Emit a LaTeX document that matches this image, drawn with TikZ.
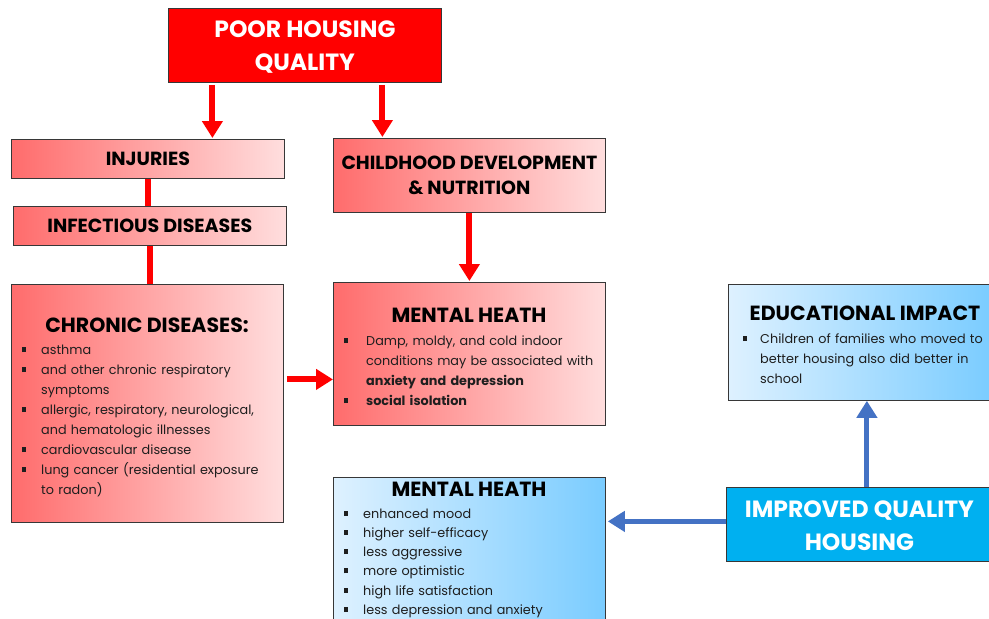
\documentclass[tikz,border=0pt]{standalone}
\usepackage{fontspec}
\setmainfont{Poppins}
\usetikzlibrary{arrows.meta}
\definecolor{redA}{RGB}{255,108,108}
\definecolor{redB}{RGB}{255,222,222}
\definecolor{blueA}{RGB}{222,241,255}
\definecolor{blueB}{RGB}{122,204,255}
\definecolor{cyanbox}{RGB}{0,176,240}
\definecolor{arrowblue}{RGB}{68,114,196}
\definecolor{edge}{RGB}{55,55,55}
\definecolor{bodytext}{RGB}{30,30,30}
\newlength\bind
\newcommand{\bitem}{\par\hangindent=\bind\hangafter=1\noindent\makebox[\bind][l]{\rule[2.5pt]{3.5pt}{5pt}}}
\begin{document}
\begin{tikzpicture}[x=1pt,y=-1pt,
  boxbase/.style={draw=edge,line width=0.8pt,anchor=north west,inner sep=0pt},
  redbox/.style={boxbase,left color=redA,right color=redB},
  bluebox/.style={boxbase,left color=blueA,right color=blueB},
  solidred/.style={boxbase,fill=red},
  solidcyan/.style={boxbase,fill=cyanbox},
  whitehead/.style={font=\bfseries\fontsize{23.5}{33}\selectfont,text=white,align=center},
  head/.style={font=\bfseries\fontsize{19}{25}\selectfont,text=black,align=center},
  bighead/.style={font=\bfseries\fontsize{20.5}{24}\selectfont,text=black,inner sep=0pt},
  body/.style={font=\fontsize{12.8}{20}\selectfont,text=bodytext,align=left,anchor=north west,inner sep=0pt,text width=300pt},
  tightbody/.style={body,font=\fontsize{12.8}{19.3}\selectfont},
  redarrow/.style={draw=red,line width=6pt,-{Triangle[width=20pt,length=17pt]}},
  redline/.style={draw=red,line width=6pt},
  bluearrow/.style={draw=arrowblue,line width=5pt,-{Triangle[width=20pt,length=17pt]}}
]
\useasboundingbox (0,0) rectangle (989,619);
% boxes
\node[solidred,minimum width=273pt,minimum height=74pt] (poor) at (168,8) {};
\node[whitehead] (poort) at ([yshift=-2pt]poor.center) {POOR HOUSING\\QUALITY};
\node[redbox,minimum width=273pt,minimum height=39pt] (inj) at (11,139) {};
\node[head] (injt) at (inj.center) {INJURIES};
\node[redbox,minimum width=273pt,minimum height=39pt] (inf) at (13,206) {};
\node[head] (inft) at (inf.center) {INFECTIOUS DISEASES};
\node[redbox,minimum width=272pt,minimum height=238pt] (chr) at (11,284) {};
\node[redbox,minimum width=272pt,minimum height=74pt] (child) at (333,138) {};
\node[head] (childt) at (child.center) {CHILDHOOD DEVELOPMENT\\\& NUTRITION};
\node[redbox,minimum width=272pt,minimum height=143pt] (mh) at (333,282) {};
\node[bluebox,minimum width=264pt,minimum height=116pt] (edu) at (728,284) {};
\node[solidcyan,minimum width=266pt,minimum height=74pt] (imp) at (726,487) {};
\node[whitehead] (impt) at ([yshift=-1pt]imp.center) {IMPROVED QUALITY\\HOUSING};
\node[bluebox,minimum width=272pt,minimum height=160pt] (bmh) at (333,477) {};
% texts of the large boxes
\node[bighead] (chrh) at (147,325) {CHRONIC DISEASES:};
\node[body] (chrb) at (22,334.5) {\setlength\bind{19pt}%
\bitem asthma
\bitem and other chronic respiratory\newline symptoms
\bitem allergic, respiratory, neurological,\newline and hematologic illnesses
\bitem cardiovascular disease
\bitem lung cancer (residential exposure\newline to radon)\par};
\node[bighead] (mhh) at (469,315) {MENTAL HEATH};
\node[body] (mhb) at (344,325.5) {\setlength\bind{22pt}%
\bitem Damp, moldy, and cold indoor\newline conditions may be associated with\newline \textbf{anxiety and depression}
\bitem \textbf{social isolation}\par};
\node[bighead] (eduh) at (865,313) {EDUCATIONAL IMPACT};
\node[body] (edub) at (743,323.5) {\setlength\bind{17pt}%
\bitem Children of families who moved to\newline better housing also did better in\newline school\par};
\node[bighead] (bmhh) at (469,489) {MENTAL HEATH};
\node[tightbody] (bmhb) at (344,498.5) {\setlength\bind{19pt}%
\bitem enhanced mood
\bitem higher self-efficacy
\bitem less aggressive
\bitem more optimistic
\bitem high life satisfaction
\bitem less depression and anxiety\par};
% connectors
\draw[redarrow] ([xshift=-92.5pt,yshift=-2pt]poor.south) -- ([xshift=64.5pt,yshift=1pt]inj.north);
\draw[redarrow] ([xshift=77.5pt,yshift=-2pt]poor.south) -- ([xshift=-87pt,yshift=1pt]child.north);
\draw[redline] (inj.south) -- (inj.south |- inf.north);
\draw[redline] (inf.south) -- (inf.south |- chr.north);
\draw[redarrow] (child.south) -- ([yshift=1pt]mh.north);
\draw[redarrow] ([xshift=3pt,yshift=24pt]chr.east) -- ([yshift=24pt]chr.east -| mh.west);
\draw[bluearrow] ([yshift=3pt]imp.west) -- ([yshift=3pt,xshift=2pt]imp.west -| bmh.east);
\draw[bluearrow] ([xshift=7.5pt]imp.north) -- ([xshift=7.5pt]imp.north |- edu.south);
\end{tikzpicture}
\end{document}
